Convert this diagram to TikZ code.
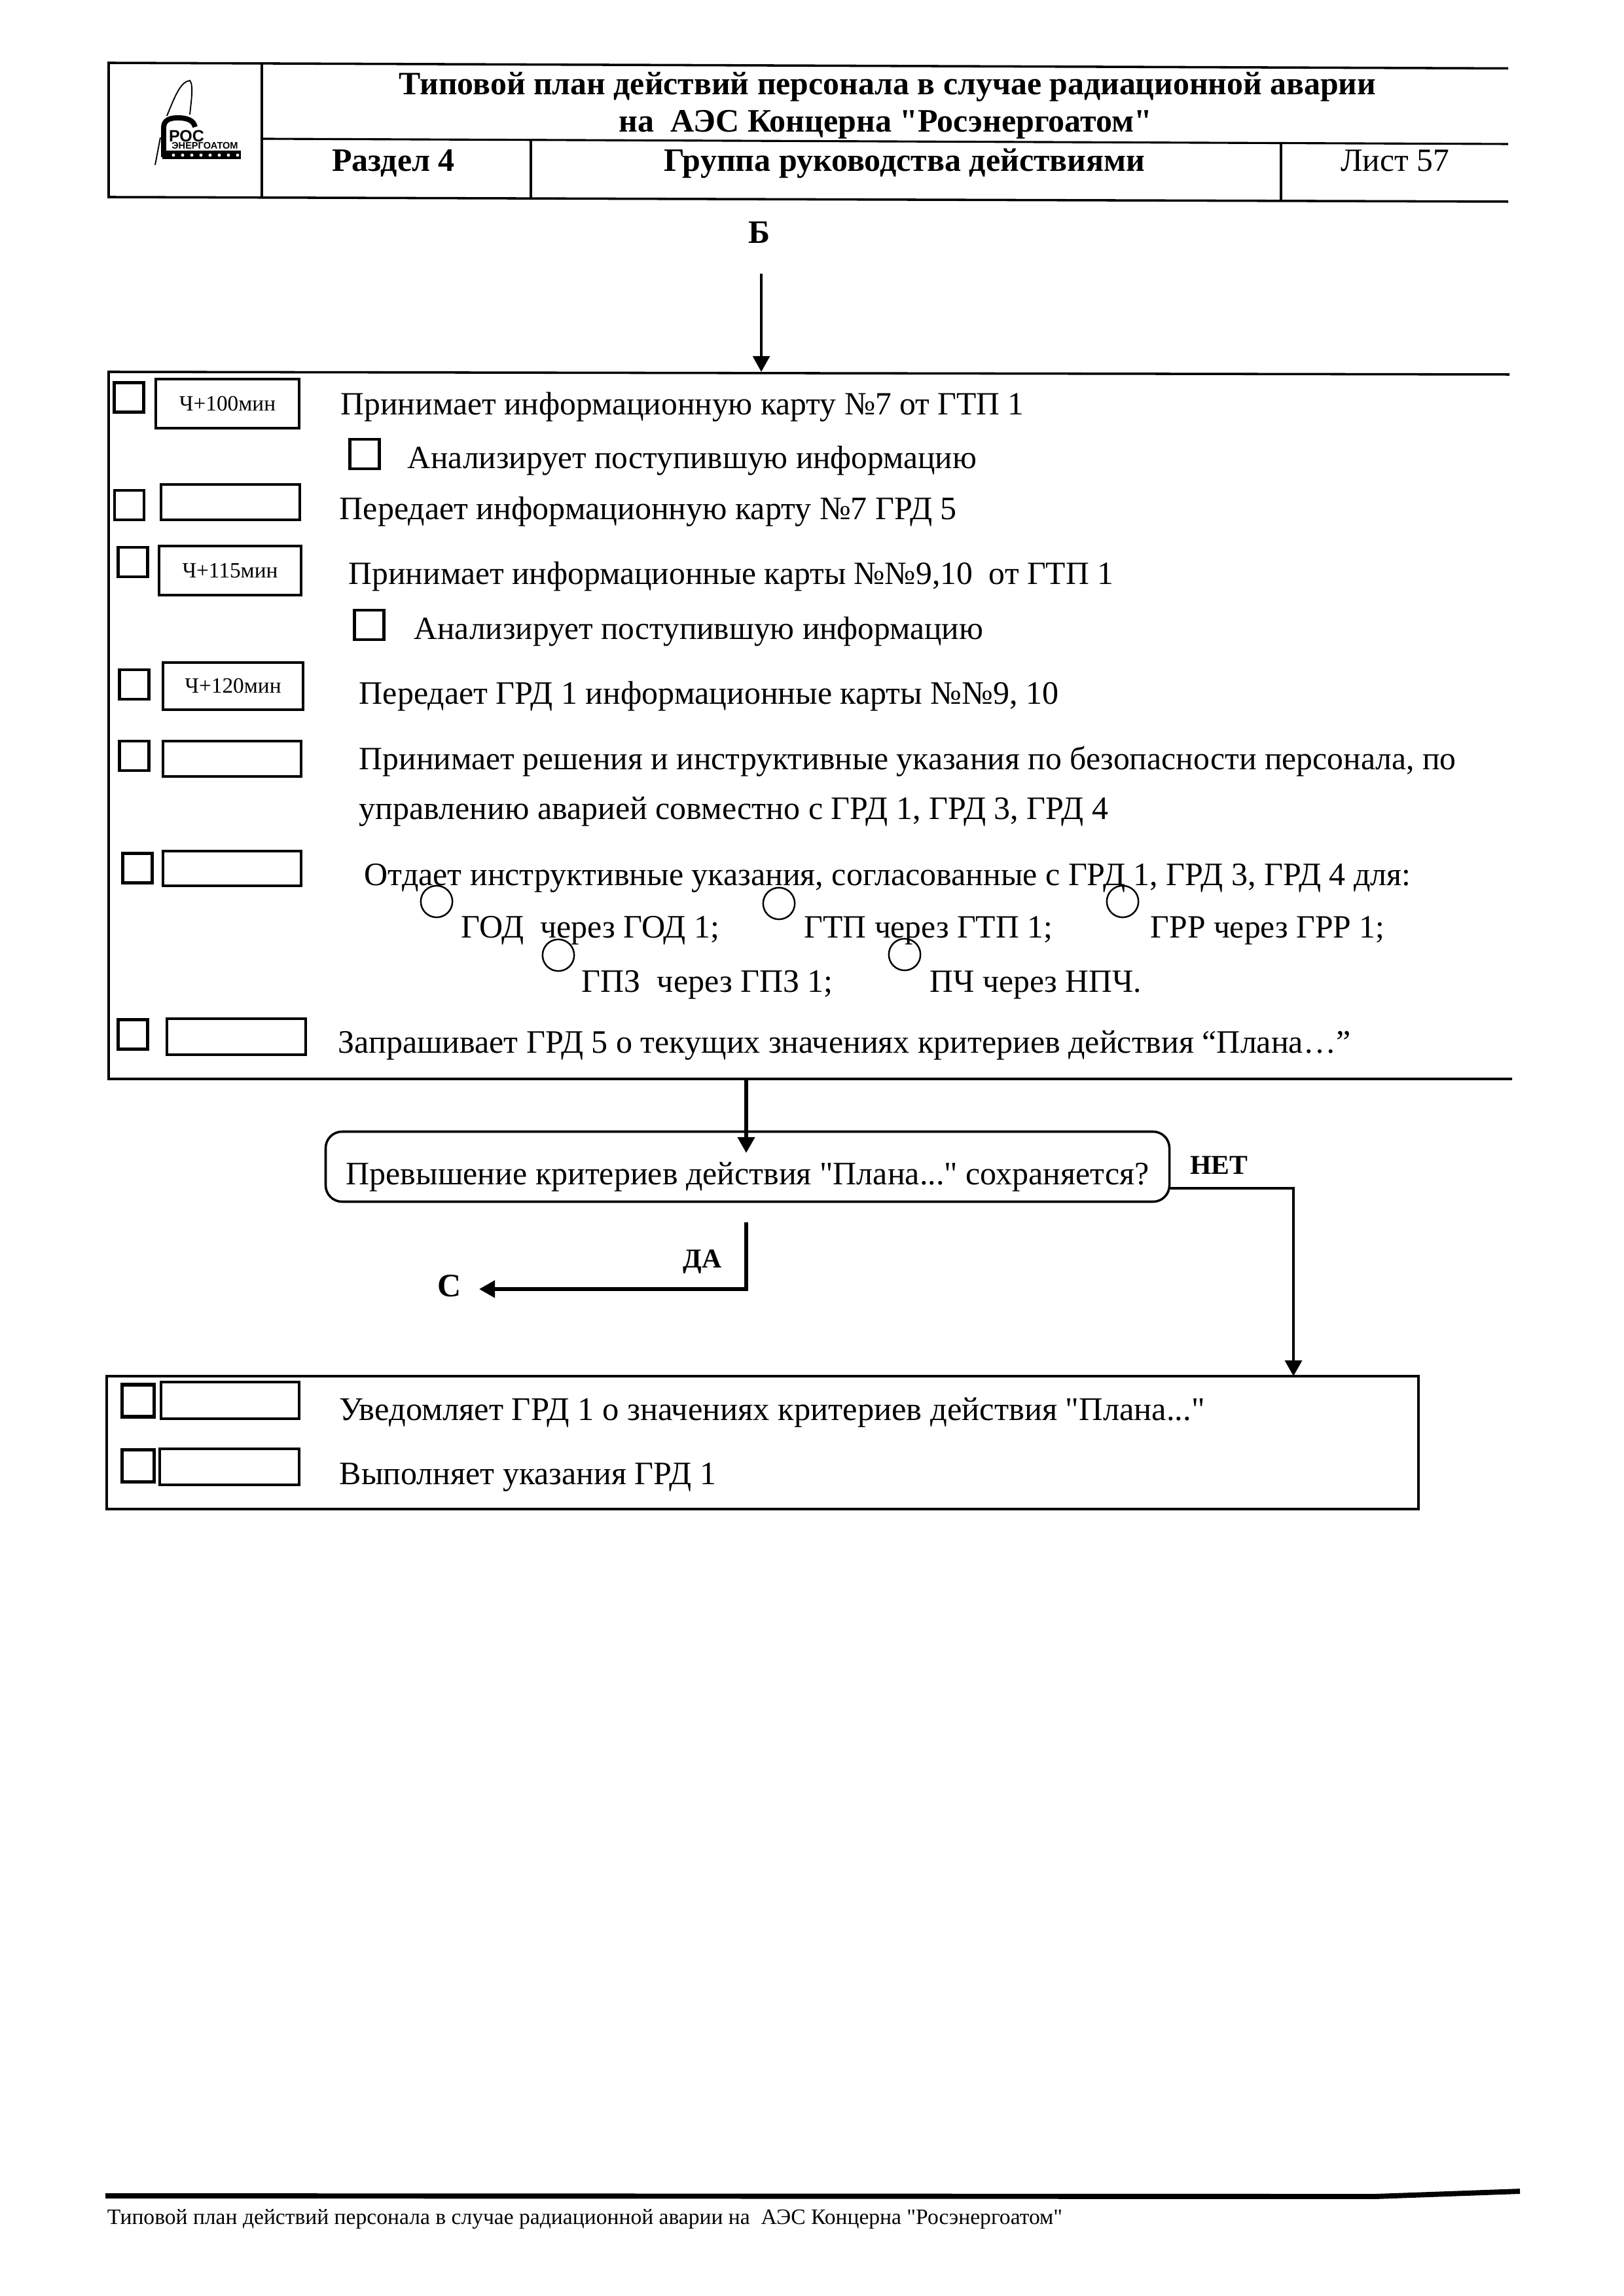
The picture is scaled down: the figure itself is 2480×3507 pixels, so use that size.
\documentclass[tikz,border=0pt]{standalone}
\usepackage{fontspec}
\setmainfont{Liberation Serif}[Ligatures=TeXOff]
\setsansfont{Liberation Sans}[Ligatures=TeXOff]
\usetikzlibrary{arrows.meta,positioning,calc}
\tikzset{
  frame/.style={draw=black,line width=0.85pt},
  sheetline/.style={draw=black,line width=0.75pt},
  chk/.style={draw=black,line width=1pt,inner sep=0pt,minimum size=10.8pt},
  chkb/.style={chk,line width=1.3pt,minimum size=11.8pt},
  tbox/.style 2 args={draw=black,line width=0.75pt,inner sep=0pt,
    minimum width=#1*0.24pt,minimum height=#2*0.24pt,font=\fontsize{8}{9}\selectfont},
  ring/.style={circle,draw=black,line width=0.6pt,inner sep=0pt,minimum size=11.6pt},
  txt/.style={anchor=base west,inner sep=0pt,font=\fontsize{11.9}{14}\selectfont},
  txtb/.style={txt,font=\fontsize{12}{14}\selectfont},
  head/.style={anchor=base,inner sep=0pt,font=\fontsize{12}{14}\bfseries\selectfont},
  elabel/.style={inner sep=0pt,font=\fontsize{10}{12}\bfseries\selectfont},
  flow/.style={-{Triangle[length=5.8pt,width=6.2pt]},line width=1.25pt,draw=black},
}
\begin{document}
\begin{tikzpicture}[x=0.24pt,y=-0.24pt]
  \useasboundingbox (0,0) rectangle (2480,3507);
  % header
  \draw[frame] (2304,104.5)--(166,96)--(166,301)--(2304,308);
  \draw[sheetline] (400,212)--(2304,220);
  \draw[sheetline] (400,97)--(400,301);
  \draw[sheetline] (811,213)--(811,302);
  \draw[sheetline] (1957,217)--(1957,306);
  \node[head,font=\fontsize{11.95}{14}\bfseries\selectfont](title1) at (1356,145){Типовой план действий персонала в случае радиационной аварии};
  \node[head](title2) at (1353,202){на\ \ АЭС Концерна "Росэнергоатом"};
  \node[head](part) at (601,262){Раздел 4};
  \node[head](group) at (1382,262){Группа руководства действиями};
  \node[txt,anchor=base](sheet) at (2131,262){Лист 57};
  % logo
  \draw[line width=0.45pt] (255,177)..controls (268,145) and (276,125)..(290,123)
    ..controls (296,130) and (292,155)..(290,175);
  \draw[line width=1.9pt] (250,240)--(250,195)..controls (250,183) and (260,180)..(272,180)
    ..controls (286,180) and (296,184)..(298,194);
  \draw[line width=0.45pt] (245,210)--(237,252);
  \fill (248,230) rectangle (368,243);
  \foreach \dotx in {265,279,293,307,321,335,349,363}
    \fill[white] (\dotx,237) circle (2.4);
  \node[inner sep=0pt,font=\sffamily\fontsize{6}{6}\bfseries\selectfont](logoa) at (285,208){РОС};
  \node[inner sep=0pt,font=\sffamily\fontsize{3.5}{4}\bfseries\selectfont](logob) at (313,222){ЭНЕРГОАТОМ};
  % entry
  \node[head](lblB) at (1160,372){Б};
  \coordinate (entryTop) at (1163,418);
  \coordinate (entryEnd) at (1163,568);
  \draw[flow,line width=0.9pt] (entryTop)--(entryEnd);
  % main block
  \draw[frame] (2306,572)--(166,568)--(166,1648)--(2310,1648);
  \node[chk](c1) at (197,607){};
  \node[tbox={219}{75}](t1) at (347.5,616.5){Ч+100мин};
  \node[txt](s1) at (520,634){Принимает информационную карту №7 от ГТП 1};
  \node[chk](c1s) at (557,693.5){};
  \node[txt,font=\fontsize{11.85}{14}\selectfont](s1a) at (622,716){Анализирует поступившую информацию};
  \node[chk](c2) at (197.5,771.5){};
  \node[tbox={212}{54}](t2) at (352,767){};
  \node[txtb](s2) at (518,794){Передает информационную карту №7 ГРД 5};
  \node[chk](c3) at (203,858.5){};
  \node[tbox={217}{75}](t3) at (351.5,871.5){Ч+115мин};
  \node[txt](s3) at (532,893){Принимает информационные карты №№9,10\ \ от ГТП 1};
  \node[chk](c3s) at (564,954.5){};
  \node[txt,font=\fontsize{11.85}{14}\selectfont](s3a) at (632,977){Анализирует поступившую информацию};
  \node[chk](c4) at (205,1045.5){};
  \node[tbox={214}{72}](t4) at (356,1048){Ч+120мин};
  \node[txtb](s4) at (548,1076){Передает ГРД 1 информационные карты №№9, 10};
  \node[chk](c5) at (205,1154.5){};
  \node[tbox={211}{54}](t5) at (354.5,1159){};
  \node[txt,font=\fontsize{11.93}{14}\selectfont](s5) at (548,1175){Принимает решения и инструктивные указания по безопасности персонала, по};
  \node[txtb](s5b) at (548,1251){управлению аварией совместно с ГРД 1, ГРД 3, ГРД 4};
  \node[chk](c6) at (210,1326){};
  \node[tbox={211}{53}](t6) at (354.5,1326.5){};
  \node[txtb](s6) at (556,1352){Отдает инструктивные указания, согласованные с ГРД 1, ГРД 3, ГРД 4 для:};
  \node[ring](r1) at (667,1377){};
  \node[txtb](g1) at (704,1432){ГОД\ \ через ГОД 1;};
  \node[ring](r2) at (1190,1380){};
  \node[txt](g2) at (1228,1432){ГТП через ГТП 1;};
  \node[ring](r3) at (1715,1377){};
  \node[txt](g3) at (1757,1432){ГРР через ГРР 1;};
  \node[ring](r4) at (853,1459){};
  \node[txtb](g4) at (888,1515){ГПЗ\ \ через ГПЗ 1;};
  \node[ring](r5) at (1382,1458){};
  \node[txt](g5) at (1420,1515){ПЧ через НПЧ.};
  \node[chk](c7) at (203,1580){};
  \node[tbox={212}{55}](t7) at (361,1583.5){};
  \node[txtb](s7) at (516,1608){Запрашивает ГРД 5 о текущих значениях критериев действия “Плана…”};
  % decision
  \node[draw=black,line width=0.85pt,rounded corners=6pt,inner sep=0pt,font=\fontsize{12}{14}\selectfont,
    minimum width=1289*0.24pt,minimum height=107*0.24pt](dec) at (1142,1782)
    {\raisebox{-6.6pt}[0pt][0pt]{Превышение критериев действия "Плана..." сохраняется?}};
  \coordinate (mainOut) at (1140,1648);
  \coordinate (decIn) at (1140,1761);
  \draw[flow] (mainOut)--(decIn);
  \node[elabel](no) at (1862,1780){НЕТ};
  \coordinate (noEnd) at (1976,2102);
  \draw[flow,line width=1.05pt] ([yshift=-7.9pt]dec.east)-|(noEnd);
  \node[elabel](yes) at (1073,1927){ДА};
  \node[head,anchor=center](lblC) at (687,1964){С};
  \coordinate (yesTop) at (1140,1867);
  \coordinate (yesEnd) at (732,1969);
  \draw[flow] (yesTop)|-(yesEnd);
  % lower block
  \node[frame,inner sep=0pt,minimum width=2004*0.24pt,minimum height=203*0.24pt](low) at (1165,2203.5){};
  \node[chkb](c8) at (211,2139.5){};
  \node[tbox={211}{56}](t8) at (351.5,2139){};
  \node[txt,font=\fontsize{12.13}{14}\selectfont](s8) at (518,2169){Уведомляет ГРД 1 о значениях критериев действия "Плана..."};
  \node[chkb](c9) at (211,2239){};
  \node[tbox={213}{55}](t9) at (350.5,2240.5){};
  \node[txtb](s9) at (518,2267){Выполняет указания ГРД 1};
  % footer
  \draw[line width=1.9pt] (161,3354)--(2100,3355)--(2322,3347);
  \node[txt,font=\fontsize{8.06}{9}\selectfont](foot) at (163,3397)
    {Типовой план действий персонала в случае радиационной аварии на\ \ АЭС Концерна "Росэнергоатом"};
\end{tikzpicture}
\end{document}
